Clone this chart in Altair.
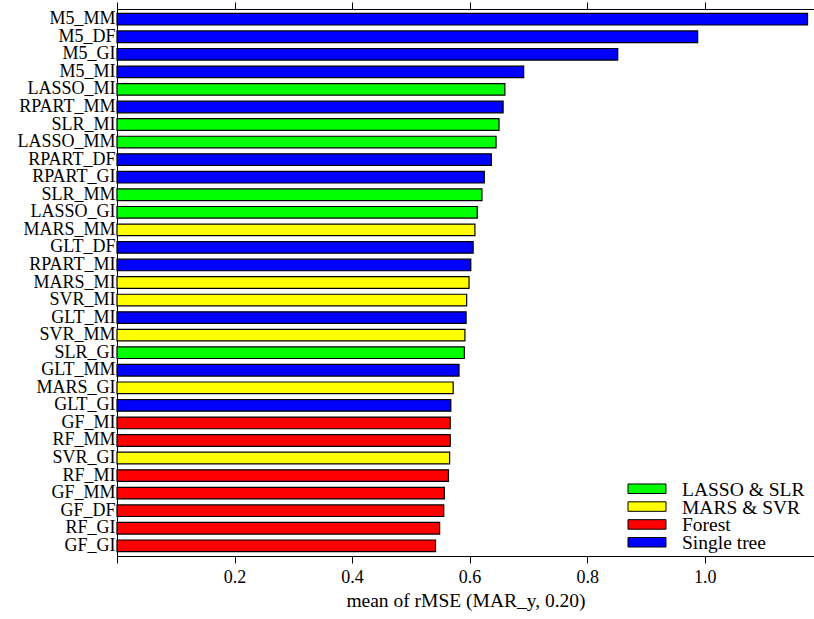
import altair as alt
import pandas as pd

# Model / imputation combinations, top to bottom
methods = [
    "M5_MM", "M5_DF", "M5_GI", "M5_MI", "LASSO_MI", "RPART_MM", "SLR_MI",
    "LASSO_MM", "RPART_DF", "RPART_GI", "SLR_MM", "LASSO_GI", "MARS_MM",
    "GLT_DF", "RPART_MI", "MARS_MI", "SVR_MI", "GLT_MI", "SVR_MM", "SLR_GI",
    "GLT_MM", "MARS_GI", "GLT_GI", "GF_MI", "RF_MM", "SVR_GI", "RF_MI",
    "GF_MM", "GF_DF", "RF_GI", "GF_GI",
]
rmse = [
    1.175, 0.988, 0.852, 0.692, 0.660, 0.657, 0.650,
    0.645, 0.637, 0.625, 0.621, 0.613, 0.609,
    0.606, 0.602, 0.599, 0.595, 0.594, 0.592, 0.591,
    0.582, 0.572, 0.568, 0.567, 0.567, 0.566, 0.564,
    0.557, 0.556, 0.549, 0.542,
]
family = [
    "Single tree", "Single tree", "Single tree", "Single tree", "LASSO & SLR", "Single tree", "LASSO & SLR",
    "LASSO & SLR", "Single tree", "Single tree", "LASSO & SLR", "LASSO & SLR", "MARS & SVR",
    "Single tree", "Single tree", "MARS & SVR", "MARS & SVR", "Single tree", "MARS & SVR", "LASSO & SLR",
    "Single tree", "MARS & SVR", "Single tree", "Forest", "Forest", "MARS & SVR", "Forest",
    "Forest", "Forest", "Forest", "Forest",
]

families = ["LASSO & SLR", "MARS & SVR", "Forest", "Single tree"]
family_colors = ["#00ff00", "#ffff00", "#ff0000", "#0000ff"]
tick_values = [0.0, 0.2, 0.4, 0.6, 0.8, 1.0]

df = pd.DataFrame({"method": methods, "rmse": rmse, "family": family})
legend_df = pd.DataFrame({"family": families})

FONT = "Liberation Serif"
x_scale = alt.Scale(domain=[0, 1.186], nice=False, zero=True)
color_scale = alt.Scale(domain=families, range=family_colors)
y_scale = alt.Scale(paddingInner=0.338, paddingOuter=0.25)

bars = alt.Chart(df).mark_bar(stroke="black", strokeWidth=1.2).encode(
    x=alt.X(
        "rmse:Q",
        scale=x_scale,
        axis=alt.Axis(
            title="mean of rMSE (MAR_y, 0.20)", values=tick_values,
            labelExpr="datum.value == 0 ? '' : format(datum.value, '.1f')",
            grid=False, tickSize=7, tickColor="black", domainColor="black",
            labelFontSize=18, labelFont=FONT, labelColor="black", labelPadding=5,
            titleFontSize=19.5, titleFont=FONT, titleFontWeight="normal",
            titleColor="black", titlePadding=5,
        ),
    ),
    y=alt.Y(
        "method:N", sort=methods, scale=y_scale,
        axis=alt.Axis(title=None, ticks=False, labelPadding=2, labelFontSize=18,
                      labelColor="black", domainColor="black", labelFont=FONT),
    ),
    color=alt.Color("family:N", scale=color_scale, legend=None),
)

# Top frame axis with tick marks only
top = alt.Chart(df).mark_bar(opacity=0).encode(
    x=alt.X(
        "rmse:Q", scale=x_scale,
        axis=alt.Axis(orient="top", title=None, labels=False, values=tick_values,
                      grid=False, tickSize=7, tickColor="black", domainColor="black"),
    ),
    y=alt.Y("method:N", sort=methods, scale=y_scale, axis=None),
)

# Legend block in the lower right corner
legend_y = alt.Y("family:N", sort=families, axis=None,
                 scale=alt.Scale(domain=families, range=[470.8, 542.2],
                                 paddingInner=0, paddingOuter=0))

legend_keys = alt.Chart(legend_df).mark_bar(
    size=9.5, stroke="black", strokeWidth=1
).encode(
    x=alt.value(511), x2=alt.value(549),
    y=legend_y,
    color=alt.Color("family:N", scale=color_scale, legend=None),
)

legend_labels = alt.Chart(legend_df).mark_text(
    align="left", baseline="middle", font=FONT, fontSize=19.5, color="black", dy=1
).encode(
    x=alt.value(565),
    y=legend_y,
    text="family:N",
)

chart = (
    alt.layer(bars, top, legend_keys, legend_labels)
    .resolve_scale(y="independent")
    .resolve_axis(x="independent", y="independent")
    .properties(
        width=697, height=547,
        autosize=alt.AutoSizeParams(type="none"),
        padding={"left": 117, "top": 9, "right": 0, "bottom": 63},
    )
    .configure(font=FONT)
    .configure_axis(labelFont=FONT, titleFont=FONT)
    .configure_view(stroke=None)
)

chart.save("out.html", embed_options={"renderer": "svg", "actions": False})
